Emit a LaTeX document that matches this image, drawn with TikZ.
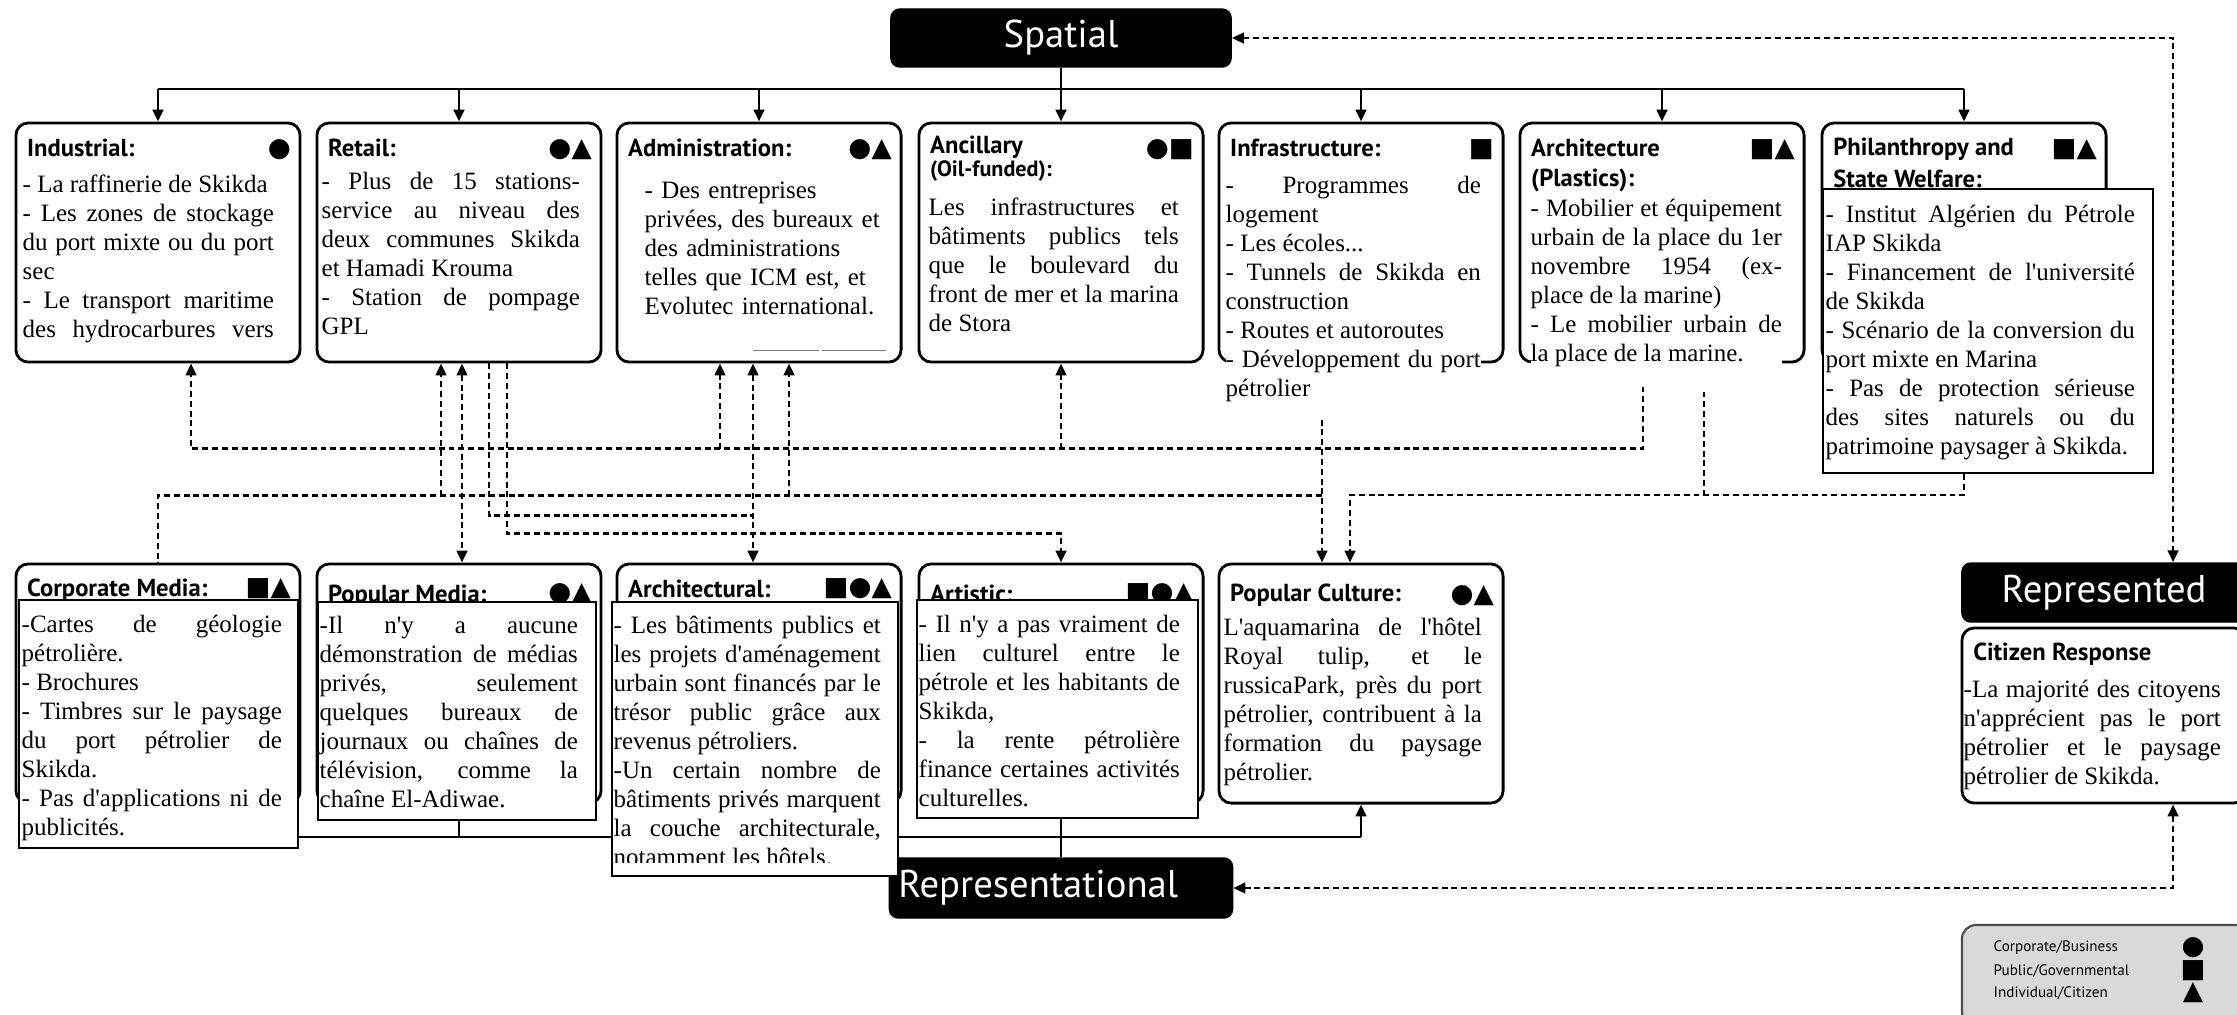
\documentclass[tikz,border=0pt]{standalone}
\usepackage{fontspec}
\setmainfont{Liberation Serif}[Ligatures=TeXOff]
\newfontfamily\headfont{PT Sans}
\newfontfamily\symfont{DejaVu Sans}
\usetikzlibrary{arrows.meta}
\hbadness=10000
\begin{document}
\begin{tikzpicture}[x=0.01cm, y=-0.01cm,
  >={Triangle[length=3.4pt,width=3pt]},
  panel/.style={draw, line width=0.8pt, rounded corners=3.5pt,
    minimum width=2.84cm, minimum height=2.39cm, inner sep=0pt},
  blk/.style={draw, fill=black, rounded corners=2.5pt, inner sep=0pt,
    text=white, font=\headfont\fontsize{11}{13}\selectfont},
  ttl/.style={anchor=base west, inner sep=0pt,
    font=\headfont\bfseries\fontsize{7}{8}\selectfont},
  sym/.style={anchor=east, inner sep=0pt, font=\symfont\fontsize{7.5}{8}\selectfont},
  body/.style={anchor=north west, inner sep=0pt, align=justify,
    font={\fontsize{7.1}{8.22}\selectfont\tolerance=10000},
    execute at begin node=\strut},
  txtbox/.style={draw, fill=white, line width=0.6pt, inner sep=0pt},
  bus/.style={line width=0.8pt},
  dln/.style={line width=0.75pt, dash pattern=on 1.7pt off 1.1pt}]
\useasboundingbox (0,0) rectangle (2237,1014);

% spatial layer
\node[panel] (ind) at (158,242.5) {};
\node[panel] (ret) at (459,242.5) {};
\node[panel] (adm) at (759,242.5) {};
\node[panel] (anc) at (1061,242.5) {};
\node[panel] (inf) at (1361,242.5) {};
\node[panel] (arc) at (1662,242.5) {};
\node[panel] (phi) at (1964,242.5) {};

% representational layer
\node[panel] (cor) at (158,683.5) {};
\node[panel] (pme) at (459,683.5) {};
\node[panel] (arl) at (759,683.5) {};
\node[panel] (art) at (1061,683.5) {};
\node[panel] (pcu) at (1361,683.5) {};
\node[panel, minimum height=1.75cm] (cit) at (2104,715.5) {};

\node[blk, minimum width=3.40cm, minimum height=0.58cm] (spa) at (1061,38) {Spatial};
\node[blk, minimum width=3.43cm, minimum height=0.60cm, text width=3.25cm, align=left] (rpl) at (1061,888) {Representational};
\node[blk, minimum width=2.84cm, minimum height=0.59cm] (rpd) at (2104,592.5) {Represented};

% titles
\node[ttl] (ind-t) at ([xshift=0.12cm,yshift=-0.35cm]ind.north west) {Industrial:};
\node[ttl] (ret-t) at ([xshift=0.12cm,yshift=-0.35cm]ret.north west) {Retail:};
\node[ttl] (adm-t) at ([xshift=0.12cm,yshift=-0.35cm]adm.north west) {Administration:};
\node[ttl] (anc-t) at ([xshift=0.12cm,yshift=-0.32cm]anc.north west) {Ancillary};
\node[ttl, font=\headfont\bfseries\fontsize{6.3}{7}\selectfont] (anc-u) at ([xshift=0.12cm,yshift=-0.55cm]anc.north west) {(Oil-funded):};
\node[ttl] (inf-t) at ([xshift=0.12cm,yshift=-0.35cm]inf.north west) {Infrastructure:};
\node[ttl] (arc-t) at ([xshift=0.12cm,yshift=-0.35cm]arc.north west) {Architecture};
\node[ttl] (arc-u) at ([xshift=0.12cm,yshift=-0.65cm]arc.north west) {(Plastics):};
\node[ttl] (phi-t) at ([xshift=0.12cm,yshift=-0.34cm]phi.north west) {Philanthropy and};
\node[ttl] (phi-u) at ([xshift=0.12cm,yshift=-0.66cm]phi.north west) {State Welfare:};
\node[ttl] (cor-t) at ([xshift=0.12cm,yshift=-0.34cm]cor.north west) {Corporate Media:};
\node[ttl] (pme-t) at ([xshift=0.12cm,yshift=-0.40cm]pme.north west) {Popular Media:};
\node[ttl] (arl-t) at ([xshift=0.12cm,yshift=-0.35cm]arl.north west) {Architectural:};
\node[ttl] (art-t) at ([xshift=0.12cm,yshift=-0.40cm]art.north west) {Artistic:};
\node[ttl] (pcu-t) at ([xshift=0.12cm,yshift=-0.39cm]pcu.north west) {Popular Culture:};
\node[ttl] (cit-t) at ([xshift=0.12cm,yshift=-0.34cm]cit.north west) {Citizen Response};

% actor symbols
\node[sym] (ind-s) at ([xshift=-0.1cm,yshift=-0.28cm]ind.north east) {●};
\node[sym] (ret-s) at ([xshift=-0.1cm,yshift=-0.28cm]ret.north east) {●▲};
\node[sym] (adm-s) at ([xshift=-0.1cm,yshift=-0.28cm]adm.north east) {●▲};
\node[sym] (anc-s) at ([xshift=-0.1cm,yshift=-0.28cm]anc.north east) {●■};
\node[sym] (inf-s) at ([xshift=-0.1cm,yshift=-0.28cm]inf.north east) {■};
\node[sym] (arc-s) at ([xshift=-0.1cm,yshift=-0.28cm]arc.north east) {■▲};
\node[sym] (phi-s) at ([xshift=-0.1cm,yshift=-0.28cm]phi.north east) {■▲};
\node[sym] (cor-s) at ([xshift=-0.1cm,yshift=-0.26cm]cor.north east) {■▲};
\node[sym] (pme-s) at ([xshift=-0.1cm,yshift=-0.31cm]pme.north east) {●▲};
\node[sym] (arl-s) at ([xshift=-0.1cm,yshift=-0.26cm]arl.north east) {■●▲};
\node[sym] (art-s) at ([xshift=-0.1cm,yshift=-0.31cm]art.north east) {■●▲};
\node[sym] (pcu-s) at ([xshift=-0.1cm,yshift=-0.33cm]pcu.north east) {●▲};

% solid buses
\coordinate (tb) at (1061,89);
\coordinate (bb) at (1061,837);
\draw[bus] (ind.north |- tb) -- (phi.north |- tb);
\draw[bus,->] (spa.south) -- (anc.north);
\foreach \n in {ind,ret,adm,inf,arc,phi}
  \draw[bus,->] (\n.north |- tb) -- (\n.north);
\draw[bus] (cor.south |- bb) -- (pcu.south |- bb);
\draw[bus,->] (pcu.south |- bb) -- (pcu.south);
\draw[bus] (rpl.north) -- (rpl.north |- art.south);
\foreach \n in {cor,pme,arl}
  \draw[bus] (\n.south) -- (\n.south |- bb);

\node[txtbox, minimum width=3.30cm, minimum height=2.84cm] (phib) at (1988,331) {};

% dashed links
\draw[dln,<->] (spa.east) -| ([xshift=0.69cm]rpd.north);
\draw[dln,<->] (rpl.east) -| ([xshift=0.69cm]cit.south);
\draw[dln,->] ([xshift=-0.19cm,yshift=-0.23cm]arc.south) -- ++(0,62) -| ([xshift=0.33cm]ind.south);
\draw[dln,->] ([xshift=-0.39cm,yshift=-0.85cm]adm.south) -- ([xshift=-0.39cm]adm.south);
\draw[dln,->] ([yshift=-0.85cm]anc.south) -- (anc.south);
\draw[dln,->] ([xshift=-0.39cm,yshift=-0.56cm]inf.south) -- ([xshift=-0.39cm]pcu.north);
\draw[dln] ([xshift=-0.39cm,yshift=-1.32cm]inf.south) -| (cor.north);
\draw[dln,->] ([xshift=-0.18cm,yshift=-1.32cm]ret.south) -- ([xshift=-0.18cm]ret.south);
\draw[dln,->] ([xshift=0.30cm,yshift=-1.32cm]adm.south) -- ([xshift=0.30cm]adm.south);
\draw[dln,<->] ([xshift=0.03cm]ret.south) -- ([xshift=0.03cm]pme.north);
\draw[dln,<->] ([xshift=-0.06cm]adm.south) -- ([xshift=-0.06cm]arl.north);
\draw[dln] ([xshift=0.30cm]ret.south) |- ([xshift=-0.06cm,yshift=-1.52cm]adm.south);
\draw[dln,->] ([xshift=0.48cm]ret.south) |- ([yshift=-1.70cm]anc.south) -- (art.north);
\draw[dln,->] (phi.south |- phib.south) -- ++(0,21) -| ([xshift=-0.11cm]pcu.north);
\draw[dln] ([xshift=0.42cm,yshift=-0.28cm]arc.south) -- ++(0,104);

\draw[gray, line width=0.3pt] ([xshift=-0.06cm,yshift=0.13cm]adm.south) -- ++(66,0) ++(3,0) -- ++(64,0);

% texts of the spatial layer
\node[body, text width=2.51cm] (ind-x) at (22,172) {- La raffinerie de Skikda\par - Les zones de stockage\linebreak du port mixte ou du port\linebreak sec\par - Le transport maritime\linebreak des hydrocarbures vers\linebreak};
\node[body, text width=2.58cm] (ret-x) at (321,169) {- Plus de 15 stations-\linebreak service au niveau des\linebreak deux communes Skikda\linebreak et Hamadi Krouma\par - Station de pompage\linebreak GPL};
\node[body, text width=2.50cm, align=left] (adm-x) at (644,178) {- Des entreprises\\ privées, des bureaux et\\ des administrations\\ telles que ICM est, et\\ Evolutec international.};
\node[body, text width=2.50cm] (anc-x) at (928,195) {Les infrastructures et\linebreak bâtiments publics tels\linebreak que le boulevard du\linebreak front de mer et la marina\linebreak de Stora};
\node[body, text width=2.55cm, fill=white] (inf-x) at (1225,173) {- Programmes de\linebreak logement\par - Les écoles...\par - Tunnels de Skikda en\linebreak construction\par - Routes et autoroutes\par - Développement du port\linebreak pétrolier};
\node[body, text width=2.51cm, fill=white] (arc-x) at (1530,196) {- Mobilier et équipement\linebreak urbain de la place du 1er\linebreak novembre 1954 (ex-\linebreak place de la marine)\par - Le mobilier urbain de\linebreak la place de la marine.};
\node[body, text width=3.09cm] (phi-x) at (1825,202) {- Institut Algérien du Pétrole\linebreak IAP Skikda\par - Financement de l'université\linebreak de Skikda\par - Scénario de la conversion du\linebreak port mixte en Marina\par - Pas de protection sérieuse\linebreak des sites naturels ou du\linebreak patrimoine paysager à Skikda.};

% texts of the representational layer
\node[txtbox, minimum width=2.79cm, minimum height=2.48cm] (corb) at (158.5,724) {};
\node[txtbox, minimum width=2.78cm, minimum height=2.18cm] (pmeb) at (457,711) {};
\node[txtbox, minimum width=2.86cm, minimum height=2.74cm] (arlb) at (755,739) {};
\node[txtbox, minimum width=2.81cm, minimum height=2.18cm] (artb) at (1057.5,709) {};
\node[body, text width=2.60cm] (cor-x) at (21,612) {-Cartes de géologie\linebreak pétrolière.\par - Brochures\par - Timbres sur le paysage\linebreak du port pétrolier de\linebreak Skikda.\par - Pas d'applications ni de\linebreak publicités.};
\node[body, text width=2.58cm] (pme-x) at (319,613) {-Il n'y a aucune\linebreak démonstration de médias\linebreak privés, seulement\linebreak quelques bureaux de\linebreak journaux ou chaînes de\linebreak télévision, comme la\linebreak chaîne El-Adiwae.};
\begin{scope}
\clip (arlb.north west) rectangle ([yshift=0.15cm]arlb.south east);
\node[body, text width=2.67cm] (arl-x) at (613,613) {- Les bâtiments publics et\linebreak les projets d'aménagement\linebreak urbain sont financés par le\linebreak trésor public grâce aux\linebreak revenus pétroliers.\par -Un certain nombre de\linebreak bâtiments privés marquent\linebreak la couche architecturale,\linebreak notamment les hôtels.};
\end{scope}
\node[body, text width=2.61cm] (art-x) at (918,612) {- Il n'y a pas vraiment de\linebreak lien culturel entre le\linebreak pétrole et les habitants de\linebreak Skikda,\par - la rente pétrolière\linebreak finance certaines activités\linebreak culturelles.};
\node[body, text width=2.58cm] (pcu-x) at (1223,615) {L'aquamarina de l'hôtel\linebreak Royal tulip, et le\linebreak russicaPark, près du port\linebreak pétrolier, contribuent à la\linebreak formation du paysage\linebreak pétrolier.};
\node[body, text width=2.57cm] (cit-x) at (1963,677) {-La majorité des citoyens\linebreak n'apprécient pas le port\linebreak pétrolier et le paysage\linebreak pétrolier de Skikda.};

% legend
\node[draw=black!70, fill=gray!30, rounded corners=4pt, line width=0.6pt, minimum width=2.88cm, minimum height=1.0cm, inner sep=0pt] (leg) at (2106,975) {};
\node[anchor=west, inner sep=0pt, font=\headfont\fontsize{4.3}{5}\selectfont] (leg-a) at (1993,948) {Corporate/Business};
\node[anchor=west, inner sep=0pt, font=\headfont\fontsize{4.3}{5}\selectfont] (leg-b) at (1993,971) {Public/Governmental};
\node[anchor=west, inner sep=0pt, font=\headfont\fontsize{4.3}{5}\selectfont] (leg-c) at (1993,993) {Individual/Citizen};
\node[inner sep=0pt, font=\symfont\fontsize{7.5}{8}\selectfont] (leg-1) at (2193,948) {●};
\node[inner sep=0pt, font=\symfont\fontsize{7.5}{8}\selectfont] (leg-2) at (2193,971) {■};
\node[inner sep=0pt, font=\symfont\fontsize{7.5}{8}\selectfont] (leg-3) at (2193,993) {▲};
\end{tikzpicture}
\end{document}
